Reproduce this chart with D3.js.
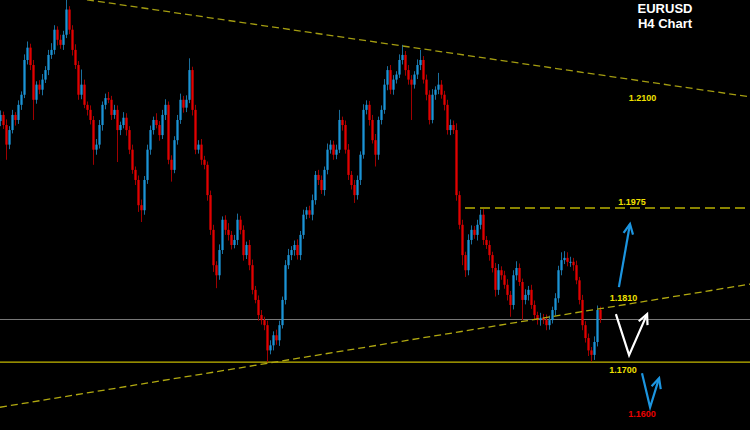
<!DOCTYPE html>
<html>
<head>
<meta charset="utf-8">
<script src="https://cdn.jsdelivr.net/npm/d3@7"></script>
<style>
  html, body { margin: 0; padding: 0; background: #000; }
  svg { display: block; }
</style>
</head>
<body>
<svg id="chart"></svg>
<script>
// EURUSD H4 closes, one candle per bar (open = previous close)
const firstOpen = 1.2130;
const closes = [
  1.2141, 1.2123, 1.2088, 1.2114, 1.2141, 1.2132, 1.2159, 1.2177, 1.2239, 1.2261,
  1.2230, 1.2168, 1.2195, 1.2186, 1.2204, 1.2221, 1.2248, 1.2257, 1.2293, 1.2275,
  1.2266, 1.2284, 1.2329, 1.2293, 1.2257, 1.2230, 1.2177, 1.2195, 1.2159, 1.2150,
  1.2132, 1.2079, 1.2088, 1.2123, 1.2159, 1.2171, 1.2168, 1.2141, 1.2150, 1.2114,
  1.2123, 1.2136, 1.2114, 1.2079, 1.2043, 1.2025, 1.1980, 1.1971, 1.2025, 1.2079,
  1.2114, 1.2132, 1.2123, 1.2105, 1.2141, 1.2159, 1.2061, 1.2043, 1.2096, 1.2132,
  1.2168, 1.2154, 1.2168, 1.2221, 1.2150, 1.2079, 1.2088, 1.2061, 1.2052, 1.1998,
  1.1936, 1.1873, 1.1855, 1.1900, 1.1954, 1.1936, 1.1927, 1.1909, 1.1918, 1.1954,
  1.1936, 1.1891, 1.1909, 1.1873, 1.1829, 1.1811, 1.1784, 1.1775, 1.1766, 1.1721,
  1.1730, 1.1748, 1.1739, 1.1766, 1.1811, 1.1873, 1.1891, 1.1900, 1.1909, 1.1891,
  1.1927, 1.1963, 1.1971, 1.1963, 1.1989, 1.2034, 1.2025, 1.2007, 1.2043, 1.2079,
  1.2088, 1.2070, 1.2079, 1.2132, 1.2123, 1.2079, 1.2034, 1.2016, 1.1998, 1.2025,
  1.2070, 1.2150, 1.2159, 1.2132, 1.2096, 1.2070, 1.2132, 1.2150, 1.2195, 1.2221,
  1.2186, 1.2204, 1.2213, 1.2239, 1.2248, 1.2221, 1.2204, 1.2195, 1.2213, 1.2230,
  1.2239, 1.2204, 1.2177, 1.2132, 1.2177, 1.2186, 1.2195, 1.2177, 1.2159, 1.2114,
  1.2123, 1.2114, 1.1998, 1.1945, 1.1891, 1.1864, 1.1918, 1.1936, 1.1927, 1.1945,
  1.1963, 1.1918, 1.1909, 1.1891, 1.1868, 1.1829, 1.1864, 1.1855, 1.1838, 1.1820,
  1.1802, 1.1855, 1.1868, 1.1843, 1.1811, 1.1820, 1.1829, 1.1802, 1.1784, 1.1775,
  1.1779, 1.1775, 1.1766, 1.1775, 1.1793, 1.1814, 1.1864, 1.1882, 1.1886, 1.1879,
  1.1879, 1.1873, 1.1846, 1.1811, 1.1766, 1.1743, 1.1721, 1.1713, 1.1736, 1.1793,
  1.1777
];
// wick sizes in pips above max(open, close) and below min(open, close)
const upperWick = [
  8,6,10,7,9,5,8,6,10,11, 7,9,6,8,10,7,9,12,8,6, 9,7,18,6,8,10,7,27,9,6,
  8,7,10,9,6,8,11,7,9,8, 6,10,8,7,9,6,8,10,7,9, 8,6,12,7,9,10,6,8,7,9,
  11,7,8,21,6,9,8,10,7,6, 8,9,7,10,6,8,12,7,9,11, 7,8,6,9,10,7,8,9,6,8,
  9,7,10,8,6,9,11,7,8,10, 7,9,6,8,10,7,9,8,6,11, 8,7,9,18,6,8,10,7,9,8,
  6,10,8,7,9,11,6,8,10,7, 9,8,6,10,18,7,9,8,6,10, 18,7,9,8,10,6,21,8,7,9,
  10,8,12,7,9,6,10,8,7,9, 9,10,7,8,6,9,11,7,8,10, 7,9,12,8,6,10,7,9,8,6,
  9,7,10,8,6,9,8,14,12,10, 9,7,8,6,9,7,8,6,10,8, 6
];
const lowerWick = [
  9,7,27,8,6,10,7,9,6,8, 9,36,7,8,10,6,9,7,8,10, 7,9,6,8,10,7,9,8,6,10,
  8,27,9,7,10,8,6,9,7,57, 9,6,10,8,7,9,12,21,8,7, 9,8,6,10,7,9,8,21,6,8,
  7,9,8,6,10,8,7,9,8,10, 9,12,23,8,7,9,10,8,6,9, 8,10,7,9,8,6,10,8,9,21,
  7,9,8,10,6,8,7,9,10,8, 9,7,8,6,10,8,9,7,10,8, 7,9,8,6,10,7,9,8,14,8,
  9,7,8,10,6,21,9,8,7,10, 8,9,7,6,8,10,9,63,7,8, 9,7,10,8,6,9,8,7,10,8,
  9,7,10,8,18,12,9,8,7,10, 8,9,7,10,8,12,9,8,7,10, 21,8,9,7,36,8,10,7,9,8,
  10,7,9,8,6,10,8,9,7,8, 9,10,7,8,9,8,10,12,9,8, 7
];

// drawn studies: [bar index, price]
const resistanceLine = [[29, 1.23464], [250, 1.21732]];
const supportLine = [[0, 1.16196], [250, 1.18393]];
const targetLevel = { from: 155, to: 250, price: 1.1975 };
const supportLevel = 1.1700;

const arrowUp = [[206.3, 1.18339], [210, 1.19464]];
const arrowWhite = [[205.3, 1.17857], [209.7, 1.17125], [215.7, 1.17857]];
const arrowDown = [[214, 1.16804], [216.7, 1.16196], [219.7, 1.16714]];

const levelLabels = [
  { text: "1.2100", at: [214.2, 1.21652], color: "#f0e000" },
  { text: "1.1975", at: [210.7, 1.19795], color: "#f0e000" },
  { text: "1.1810", at: [207.8, 1.18098], color: "#f0e000" },
  { text: "1.1700", at: [207.7, 1.16813], color: "#f0e000" },
  { text: "1.1600", at: [214.0, 1.16027], color: "#e80000" }
];

const width = 750, height = 430;

const svg = d3.select("#chart")
    .attr("width", width)
    .attr("height", height);

svg.append("rect")
    .attr("width", width)
    .attr("height", height)
    .attr("fill", "#000");

// x: bar index -> pixel, y: price -> pixel
const x = d3.scaleLinear().domain([0, 250]).range([0, 750]);
const y = d3.scaleLinear().domain([1.1579, 1.2346]).range([430, 0]);

const pip = 0.0001;
const candles = closes.map((c, i) => {
    const o = i === 0 ? firstOpen : closes[i - 1];
    return {
        i: i,
        open: o,
        close: c,
        high: Math.max(o, c) + upperWick[i] * pip,
        low: Math.min(o, c) - lowerWick[i] * pip
    };
});

const bull = "#1c9be0", bear = "#f00000";
const bullWick = "#1a6f9e", bearWick = "#a00000";

// current price line
svg.append("line")
    .attr("x1", 0).attr("x2", width)
    .attr("y1", y(closes[closes.length - 1]) + 0.5)
    .attr("y2", y(closes[closes.length - 1]) + 0.5)
    .attr("stroke", "#7a7a7a")
    .attr("stroke-width", 1);

// 1.1700 support
svg.append("line")
    .attr("x1", 0).attr("x2", width)
    .attr("y1", y(supportLevel)).attr("y2", y(supportLevel))
    .attr("stroke", "#c4b800")
    .attr("stroke-width", 1.3);

let bars = svg.append("g").attr("class", "candles");

bars.selectAll("line.wick")
    .data(candles)
    .enter()
    .append("line")
        .attr("class", "wick")
        .attr("x1", d => x(d.i) + 0.5)
        .attr("x2", d => x(d.i) + 0.5)
        .attr("y1", d => y(d.high))
        .attr("y2", d => y(d.low))
        .attr("stroke", d => d.close >= d.open ? bullWick : bearWick)
        .attr("stroke-width", 1);

bars.selectAll("rect.body")
    .data(candles)
    .enter()
    .append("rect")
        .attr("class", "body")
        .attr("x", d => x(d.i) - 0.75)
        .attr("y", d => y(Math.max(d.open, d.close)))
        .attr("width", 2.5)
        .attr("height", d => Math.max(1, Math.abs(y(d.open) - y(d.close))))
        .attr("fill", d => d.close >= d.open ? bull : bear)
        .attr("opacity", 0.82);

// trend lines
const line = d3.line().x(d => x(d[0])).y(d => y(d[1]));

svg.append("path")
    .attr("d", line(resistanceLine))
    .attr("fill", "none")
    .attr("stroke", "#a39c10")
    .attr("stroke-width", 1.3)
    .attr("stroke-dasharray", "7,4");

svg.append("path")
    .attr("d", line(supportLine))
    .attr("fill", "none")
    .attr("stroke", "#b0a810")
    .attr("stroke-width", 1.3)
    .attr("stroke-dasharray", "7,4");

svg.append("line")
    .attr("x1", x(targetLevel.from)).attr("x2", x(targetLevel.to))
    .attr("y1", y(targetLevel.price)).attr("y2", y(targetLevel.price))
    .attr("stroke", "#b8b000")
    .attr("stroke-width", 1.3)
    .attr("stroke-dasharray", "10,5");

// arrows (polyline + open arrow head)
function drawArrow(pts, color) {
    svg.append("path")
        .attr("d", line(pts))
        .attr("fill", "none")
        .attr("stroke", color)
        .attr("stroke-width", 2.2)
        .attr("stroke-linejoin", "miter");

    let n = pts.length;
    let tx = x(pts[n - 1][0]), ty = y(pts[n - 1][1]);
    let px = x(pts[n - 2][0]), py = y(pts[n - 2][1]);
    let ang = Math.atan2(ty - py, tx - px);
    let len = 11, spread = 0.45;
    let a1 = [tx - len * Math.cos(ang - spread), ty - len * Math.sin(ang - spread)];
    let a2 = [tx - len * Math.cos(ang + spread), ty - len * Math.sin(ang + spread)];
    svg.append("path")
        .attr("d", `M${a1[0]},${a1[1]}L${tx},${ty}L${a2[0]},${a2[1]}`)
        .attr("fill", "none")
        .attr("stroke", color)
        .attr("stroke-width", 2.2);
}

drawArrow(arrowUp, "#1c95e0");
drawArrow(arrowWhite, "#ffffff");
drawArrow(arrowDown, "#1c95e0");

// level labels
svg.selectAll("text.level")
    .data(levelLabels)
    .enter()
    .append("text")
        .attr("class", "level")
        .attr("x", d => x(d.at[0]))
        .attr("y", d => y(d.at[1]))
        .attr("text-anchor", "middle")
        .attr("font-family", "Liberation Sans, Arial, sans-serif")
        .attr("font-weight", "bold")
        .attr("font-size", 9)
        .attr("fill", d => d.color)
        .text(d => d.text);

// title
let title = svg.append("g")
    .attr("font-family", "Liberation Sans, Arial, sans-serif")
    .attr("font-weight", "bold")
    .attr("font-size", 13)
    .attr("fill", "#ffffff")
    .attr("text-anchor", "middle");

title.append("text").attr("x", 665).attr("y", 13).text("EURUSD");
title.append("text").attr("x", 665).attr("y", 28).text("H4 Chart");
</script>
</body>
</html>
